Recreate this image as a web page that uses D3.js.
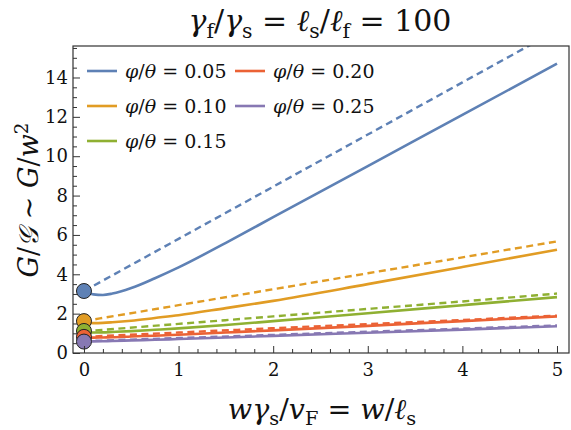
<!DOCTYPE html>
<html><head><meta charset="utf-8">
<script src="https://cdn.jsdelivr.net/npm/d3@7"></script>
<style>body{margin:0;background:#fff}svg{display:block}
svg text{font-family:"DejaVu Serif","Liberation Serif","Times New Roman",serif !important;}</style>
</head><body><svg id="c" width="571" height="430"></svg>
<script>
const labels = ["φ/θ = 0.05","φ/θ = 0.10","φ/θ = 0.15","φ/θ = 0.20","φ/θ = 0.25"];
const colors = ["#5E81B5","#E19C24","#8FB032","#EB6235","#8778B3"];
const xTicks = [0,1,2,3,4,5];
const yTicks = [0,2,4,6,8,10,12,14];
const solidX = [0,0.1,0.2,0.3,0.5,0.75,1,1.5,2,3,4,5];
const solid005 = [3.15,2.98,2.95,3.02,3.3,3.8,4.35,5.6,6.9,9.5,12.1,14.7];
const solid010 = [1.55,1.52,1.53,1.56,1.64,1.78,1.92,2.28,2.65,3.5,4.37,5.25];
const solid015 = [1.05,1.04,1.05,1.07,1.11,1.18,1.25,1.42,1.62,2.02,2.43,2.84];
const solid020 = [0.78,0.78,0.79,0.8,0.84,0.88,0.93,1.04,1.15,1.38,1.62,1.86];
const solid025 = [0.58,0.59,0.6,0.61,0.64,0.67,0.71,0.79,0.87,1.03,1.19,1.36];
const dashX = [0,1,2,3,4,5];
const dash005 = [3.15,5.8,8.45,11.1,13.75,16.4];
const dash010 = [1.62,2.43,3.24,4.05,4.86,5.67];
const dash015 = [1.1,1.48,1.86,2.24,2.62,3.02];
const dash020 = [0.82,1.04,1.26,1.47,1.68,1.9];
const dash025 = [0.6,0.76,0.92,1.08,1.24,1.4];
const startY = [3.15,1.62,1.12,0.82,0.58];
const solids = [solid005,solid010,solid015,solid020,solid025];
const dashes = [dash005,dash010,dash015,dash020,dash025];

const svg = d3.select("#c");
const L=73,R=569,T=46,B=353;
const x = d3.scaleLinear().domain([-0.116,5.127]).range([L,R]);
const y = d3.scaleLinear().domain([0,15.6]).range([B,T]);

svg.append("clipPath").attr("id","cp").append("rect").attr("x",L).attr("y",T).attr("width",R-L).attr("height",B-T);
const g = svg.append("g").attr("clip-path","url(#cp)");
const line = d3.line().x(d=>x(d[0])).y(d=>y(d[1])).curve(d3.curveMonotoneX);
for(let i=0;i<5;i++){
  g.append("path").datum(dashX.map((v,j)=>[v,dashes[i][j]])).attr("d",line)
   .attr("fill","none").attr("stroke",colors[i]).attr("stroke-width",2.4).attr("stroke-dasharray","7,4.5");
  g.append("path").datum(solidX.map((v,j)=>[v,solids[i][j]])).attr("d",line)
   .attr("fill","none").attr("stroke",colors[i]).attr("stroke-width",2.6);
}
for(let i=0;i<5;i++){
  svg.append("circle").attr("cx",x(0)).attr("cy",y(startY[i])).attr("r",7.5)
   .attr("fill",colors[i]).attr("stroke","#222").attr("stroke-width",1);
}
svg.append("rect").attr("x",L).attr("y",T).attr("width",R-L).attr("height",B-T)
  .attr("fill","none").attr("stroke","#333").attr("stroke-width",1.2);
const xa = d3.axisBottom(x).tickValues(xTicks).tickSize(-7).tickPadding(10).tickFormat(d3.format("d"));
svg.append("g").attr("transform",`translate(0,${B})`).call(xa);
const xm = d3.axisBottom(x).tickValues(d3.range(0,5.01,0.2).filter(v=>Math.abs(v-Math.round(v))>0.01)).tickSize(-4).tickFormat("");
svg.append("g").attr("transform",`translate(0,${B})`).call(xm);
const ya = d3.axisLeft(y).tickValues(yTicks).tickSize(-7).tickPadding(5).tickFormat(d3.format("d"));
svg.append("g").attr("transform",`translate(${L},0)`).call(ya);
const ym = d3.axisLeft(y).tickValues(d3.range(0.5,15.6,0.5).filter(v=>v%2!==0)).tickSize(-4).tickFormat("");
svg.append("g").attr("transform",`translate(${L},0)`).call(ym);
svg.selectAll(".domain").remove();
svg.selectAll("g").attr("font-family",null);
svg.selectAll(".tick line").attr("stroke","#333").attr("stroke-width",1);
svg.selectAll(".tick text").attr("font-size",18).attr("fill","#111");

function rich(t, parts, base){
  let cur=0;
  parts.forEach(([s,it,sh])=>{
    const target = sh===1? base*0.22 : sh===-1? -base*0.38 : 0;
    const ts=t.append("tspan").attr("dy",target-cur).text(s);
    if(it) ts.attr("font-style","italic");
    if(sh) ts.attr("font-size",base*0.68);
    cur=target;
  });
}

const lx=[87,235], ly=[71,106,141];
labels.forEach((lab,i)=>{
  const c=i<3?0:1, r=i<3?i:i-3;
  svg.append("line").attr("x1",lx[c]).attr("x2",lx[c]+30).attr("y1",ly[r]).attr("y2",ly[r])
   .attr("stroke",colors[i]).attr("stroke-width",2.6);
  const t=svg.append("text").attr("x",lx[c]+38).attr("y",ly[r]+7).attr("font-size",19).attr("fill","#111");
  rich(t,[["φ",1,0],["/",0,0],["θ",1,0],[" = "+lab.split(" = ")[1],0,0]],19);
});

const tt = svg.append("text").attr("x",320).attr("y",31).attr("text-anchor","middle").attr("font-size",30).attr("fill","#111");
rich(tt,[["γ",1,0],["f",0,1],["/",0,0],["γ",1,0],["s",0,1],[" = ",0,0],["ℓ",1,0],["s",0,1],["/",0,0],["ℓ",1,0],["f",0,1],[" = 100",0,0]],30);

const xl = svg.append("text").attr("x",322).attr("y",419).attr("text-anchor","middle").attr("font-size",28.5).attr("fill","#111");
rich(xl,[["wγ",1,0],["s",0,1],["/",0,0],["v",1,0],["F",0,1],[" = ",0,0],["w",1,0],["/",0,0],["ℓ",1,0],["s",0,1]],28.5);

const yl = svg.append("text").attr("transform","translate(38,200) rotate(-90)").attr("text-anchor","middle").attr("font-size",27).attr("fill","#111");
rich(yl,[["G",1,0],["/",0,0],["𝒢",1,0],[" ∼ ",0,0],["G",1,0],["/",0,0],["w",1,0],["2",0,-1]],27);
</script></body></html>
